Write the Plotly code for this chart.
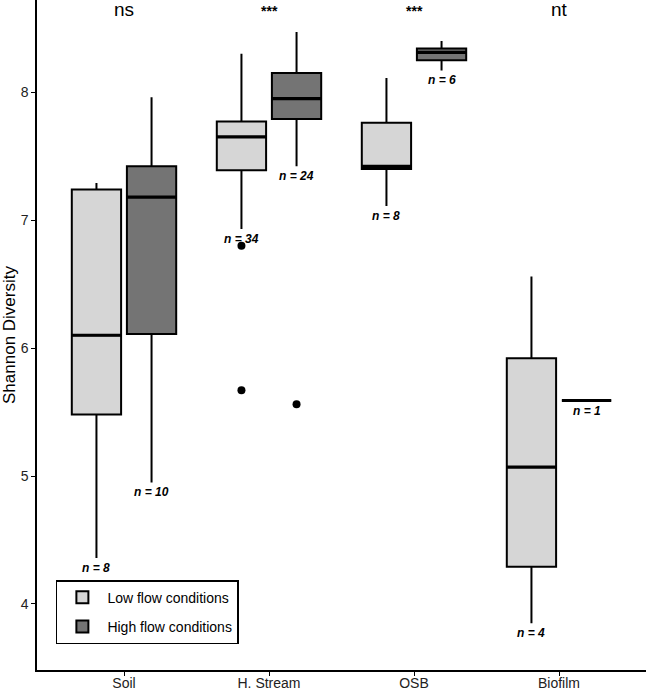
import plotly.graph_objects as go

sites = ["Soil", "H. Stream", "OSB", "Biofilm"]
stat_labels = ["ns", "***", "***", "nt"]

# precomputed box stats, one entry per site
low_q1 = [5.48, 7.39, 7.40, 4.29]
low_med = [6.10, 7.65, 7.42, 5.07]
low_q3 = [7.24, 7.77, 7.76, 5.92]
low_lo = [4.36, 6.93, 7.11, 3.85]
low_hi = [7.29, 8.30, 8.11, 6.56]
low_n = [8, 34, 8, 4]
low_out_site = [1, 1]
low_out_val = [6.80, 5.67]

high_q1 = [6.11, 7.79, 8.25, 5.59]
high_med = [7.18, 7.95, 8.31, 5.59]
high_q3 = [7.42, 8.15, 8.34, 5.59]
high_lo = [4.95, 7.42, 8.17, 5.59]
high_hi = [7.96, 8.47, 8.40, 5.59]
high_n = [10, 24, 6, 1]
high_out_site = [1]
high_out_val = [5.56]

offset = 0.19
box_w = 0.34
font = "Liberation Sans, Arial, sans-serif"

groups = [
    ("Low flow conditions", "#d6d6d6", -offset, low_q1, low_med, low_q3, low_lo, low_hi, low_n, low_out_site, low_out_val),
    ("High flow conditions", "#747474", offset, high_q1, high_med, high_q3, high_lo, high_hi, high_n, high_out_site, high_out_val),
]

fig = go.Figure()
annotations = []

for name, color, dx, q1, med, q3, lo, hi, n, out_site, out_val in groups:
    xs = [i + dx for i in range(len(sites))]
    fig.add_trace(go.Box(
        name=name, x=xs, q1=q1, median=med, q3=q3,
        lowerfence=lo, upperfence=hi,
        width=box_w, whiskerwidth=0,
        fillcolor=color, line=dict(color="black", width=2),
        boxpoints=False, legendgroup=name,
    ))
    # thicker median bar, like ggplot's fatten
    mx, my = [], []
    for x, m in zip(xs, med):
        mx += [x - box_w / 2, x + box_w / 2, None]
        my += [m, m, None]
    fig.add_trace(go.Scatter(
        x=mx, y=my, mode="lines", line=dict(color="black", width=3.2),
        showlegend=False, hoverinfo="skip",
    ))
    fig.add_trace(go.Scatter(
        x=[s + dx for s in out_site], y=out_val, mode="markers",
        marker=dict(color="black", size=8), showlegend=False, hoverinfo="skip",
    ))
    for x, y, k in zip(xs, lo, n):
        annotations.append(dict(
            x=x, y=y, yanchor="top", yshift=-1, showarrow=False,
            text=f"<b><i>n = {k}</i></b>",
            font=dict(family=font, size=12, color="black"),
        ))

for i, lab in enumerate(stat_labels):
    big = lab != "***"
    annotations.append(dict(
        x=i, y=1.0, yref="paper", yanchor="top", yshift=3 if big else -1, showarrow=False,
        text=lab if big else f"<b>{lab}</b>",
        font=dict(family=font, size=19 if big else 14, color="black"),
    ))

fig.update_layout(
    width=649, height=690,
    margin=dict(l=37, r=3, t=0, b=20),
    paper_bgcolor="white", plot_bgcolor="white",
    boxmode="overlay",
    font=dict(family=font, color="black"),
    annotations=annotations,
    legend=dict(
        x=0.031, y=0.134, xanchor="left", yanchor="top",
        bgcolor="white", bordercolor="black", borderwidth=1.5,
        font=dict(family=font, size=14, color="black"),
        itemsizing="constant", itemwidth=40, tracegroupgap=8,
    ),
    xaxis=dict(
        range=[-0.6, 3.6], tickvals=list(range(len(sites))), ticktext=sites,
        showline=True, linecolor="black", linewidth=1.5,
        ticks="outside", ticklen=4, tickcolor="black", ticklabelstandoff=-5,
        tickfont=dict(size=14, color="#222"), showgrid=False, zeroline=False,
        automargin=False,
    ),
    yaxis=dict(
        range=[3.484, 8.72], tickvals=[4, 5, 6, 7, 8],
        showline=True, linecolor="black", linewidth=1.5,
        ticks="outside", ticklen=4, tickcolor="black",
        tickfont=dict(size=14, color="#222"), showgrid=False, zeroline=False,
        automargin=False,
        title=dict(text="Shannon Diversity", font=dict(size=17, color="black"), standoff=4),
    ),
)

fig.write_html(
    "out.html",
    config={"displayModeBar": False},
    post_script="document.body.style.margin='0';",
)
